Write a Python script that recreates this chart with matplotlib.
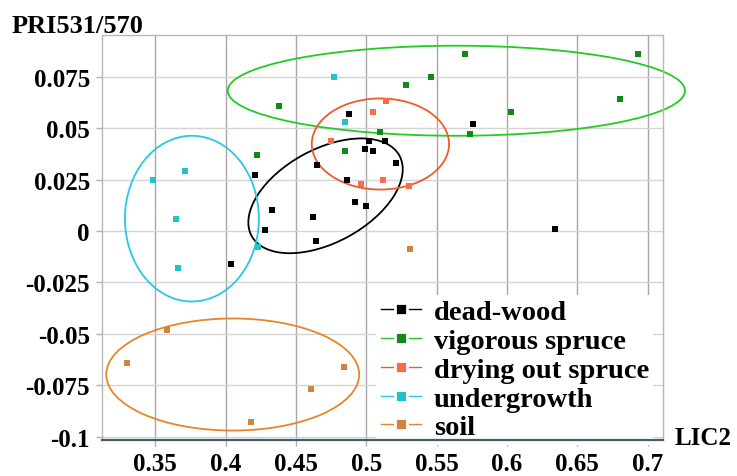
import matplotlib
matplotlib.use("Agg")
import matplotlib.pyplot as plt
from matplotlib.patches import Ellipse
from matplotlib.lines import Line2D
from matplotlib.transforms import Affine2D

plt.rcParams['font.family'] = ['Liberation Serif', 'DejaVu Serif']
plt.rcParams['font.weight'] = 'bold'
plt.rcParams['axes.unicode_minus'] = False

# data (LIC2, PRI531/570)
dead_x = [0.488, 0.502, 0.513, 0.499, 0.505, 0.521, 0.465, 0.421, 0.486, 0.492,
          0.500, 0.433, 0.462, 0.428, 0.464, 0.576, 0.634, 0.404]
dead_y = [0.057, 0.044, 0.044, 0.040, 0.039, 0.033, 0.032, 0.027, 0.025, 0.014,
          0.012, 0.010, 0.007, 0.0004, -0.005, 0.052, 0.001, -0.016]

vig_x = [0.438, 0.422, 0.485, 0.510, 0.570, 0.693, 0.546, 0.528, 0.680, 0.603, 0.574]
vig_y = [0.061, 0.037, 0.039, 0.048, 0.086, 0.086, 0.075, 0.071, 0.064, 0.058, 0.047]

dry_x = [0.514, 0.505, 0.475, 0.496, 0.512, 0.530]
dry_y = [0.063, 0.058, 0.044, 0.023, 0.025, 0.022]

under_x = [0.348, 0.371, 0.365, 0.477, 0.485, 0.366, 0.423]
under_y = [0.025, 0.029, 0.006, 0.075, 0.053, -0.018, -0.008]

soil_x = [0.330, 0.358, 0.418, 0.461, 0.484, 0.531]
soil_y = [-0.064, -0.048, -0.093, -0.077, -0.066, -0.009]

labels = ['dead-wood', 'vigorous spruce', 'drying out spruce', 'undergrowth', 'soil']
point_colors = ['#000000', '#13891a', '#fb6a4a', '#22c3c8', '#cd8540']
ring_colors = ['#000000', '#22cc22', '#f05a28', '#2ac8e0', '#ea8428']

# hand-drawn group ellipses: centre x, centre y, width (x units), height (y units), angle (screen deg)
ell_cx = [0.471, 0.564, 0.510, 0.376, 0.405]
ell_cy = [0.0171, 0.0682, 0.0423, 0.0060, -0.0698]
ell_w = [0.1196, 0.325, 0.0976, 0.0952, 0.1798]
ell_h = [0.0454, 0.0438, 0.0443, 0.0806, 0.0545]
ell_ang = [28.5, 0, 0, 0, 0]

x_ticks = [0.35, 0.4, 0.45, 0.5, 0.55, 0.6, 0.65, 0.7]
x_labels = ['0.35', '0.4', '0.45', '0.5', '0.55', '0.6', '0.65', '0.7']
y_ticks = [-0.1, -0.075, -0.05, -0.025, 0, 0.025, 0.05, 0.075]
y_labels = ['-0.1', '-0.075', '-0.05', '-0.025', '0', '0.025', '0.05', '0.075']

fig = plt.figure(figsize=(7.37, 4.77), dpi=100)
ax = fig.add_axes([0.1388, 0.0761, 0.7612, 0.8484])
ax.set_xlim(0.3123, 0.7111)
ax.set_ylim(-0.1015, 0.0953)

ax.set_xticks(x_ticks)
ax.set_xticklabels(x_labels)
ax.set_yticks(y_ticks)
ax.set_yticklabels(y_labels)
ax.tick_params(axis='both', length=4, width=1, color='#b0b0b0', labelsize=18)
ax.tick_params(axis='y', pad=5)
ax.tick_params(axis='x', pad=4.5)
ax.grid(axis='x', color='#aca4ac', lw=1.0)
ax.grid(axis='y', color='#d4d4d4', lw=1.0)
ax.set_axisbelow(True)
for s in ['top', 'right', 'left']:
    ax.spines[s].set_color('#b8b8b8')
    ax.spines[s].set_linewidth(1.0)
ax.spines['bottom'].set_color('#4a5a70')
ax.spines['bottom'].set_linewidth(1.6)
ax.spines['bottom'].set_zorder(6)

groups = [(dead_x, dead_y), (vig_x, vig_y), (dry_x, dry_y), (under_x, under_y), (soil_x, soil_y)]
for (gx, gy), c in zip(groups, point_colors):
    ax.scatter(gx, gy, marker='s', s=25, color=c, linewidths=0, zorder=3)

# ellipses drawn in a space where x and y have the same pixel scale
fig.canvas.draw()
bb = ax.get_window_extent()
k = (bb.height / (0.0953 + 0.1015)) / (bb.width / (0.7111 - 0.3123))
tr = Affine2D().scale(1, 1 / k) + ax.transData
for cx, cy, w, h, a, c in zip(ell_cx, ell_cy, ell_w, ell_h, ell_ang, ring_colors):
    e = Ellipse((cx, cy * k), w, h * k, angle=a, fill=False, edgecolor=c, lw=1.3,
                transform=tr, zorder=2, clip_on=False)
    ax.add_patch(e)

handles = [Line2D([0], [0], color=rc, lw=1.0, marker='s', markersize=8,
                  markerfacecolor=pc, markeredgecolor='white', markeredgewidth=2)
           for rc, pc in zip(ring_colors, point_colors)]
leg = ax.legend(handles, labels, loc='lower right', bbox_to_anchor=(0.982, -0.012),
                prop={'size': 20.5, 'weight': 'bold'}, frameon=True, framealpha=1,
                edgecolor='none', fancybox=False, handlelength=1.4, handletextpad=0.46,
                labelspacing=0.1, borderpad=0.15, borderaxespad=0)
leg.set_zorder(5)

fig.text(12 / 737, 1 - 33 / 477, 'PRI531/570', fontsize=19, ha='left', va='baseline')
fig.text(675 / 737, 1 - 445 / 477, 'LIC2', fontsize=18, ha='left', va='baseline')

fig.savefig('out.png', dpi=100)
